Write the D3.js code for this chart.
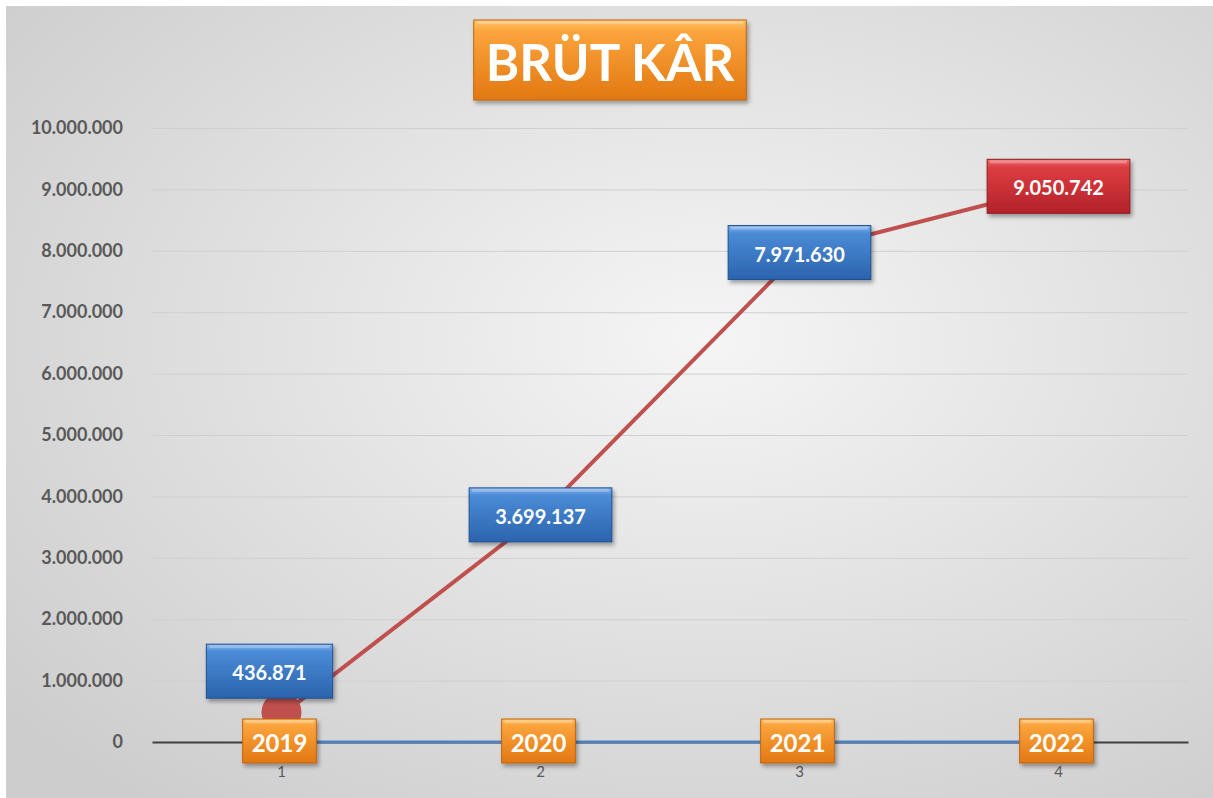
<!DOCTYPE html>
<html>
<head>
<meta charset="utf-8">
<script src="https://cdn.jsdelivr.net/npm/d3@7"></script>
<style>
  html, body { margin: 0; padding: 0; background: #fff; }
  svg { display: block; font-family: Lato, 'Open Sans', sans-serif; }
</style>
</head>
<body>
<svg id="chart"></svg>
<script>
const chartTitle = 'BRÜT KÂR';
const categories = ['1', '2', '3', '4'];
const years = [2019, 2020, 2021, 2022];
const grossProfit = [436871, 3699137, 7971630, 9050742];
const yTicks = [0, 1000000, 2000000, 3000000, 4000000, 5000000,
  6000000, 7000000, 8000000, 9000000, 10000000];

const W = 1213;
const H = 798;
const margin = { top: 128, right: 25, bottom: 56, left: 152 };
const width = W - margin.left - margin.right;
const height = H - margin.top - margin.bottom;

const locale = d3.formatLocale({ decimal: ',', thousands: '.', grouping: [3], currency: ['', ''] });
const fmt = locale.format(',d');

const svg = d3.select('#chart').attr('width', W).attr('height', H);
const defs = svg.append('defs');

// background: soft radial grey like the Excel chart area
const bg = defs.append('radialGradient').attr('id', 'bg')
  .attr('cx', '58%').attr('cy', '42%').attr('r', '75%');
bg.append('stop').attr('offset', '0%').attr('stop-color', '#f5f5f5');
bg.append('stop').attr('offset', '100%').attr('stop-color', '#cdcdcd');

const boxColours = {
  blue: ['#86b6ec', '#4b8bd7', '#2b63ad', '#1f4f8f'],
  orange: ['#ffc46c', '#fba43c', '#e27812', '#c4640c'],
  red: ['#f27576', '#dd3d42', '#b3222a', '#8c1b20'],
};
Object.keys(boxColours).forEach((k) => {
  const c = boxColours[k];
  const gr = defs.append('linearGradient').attr('id', 'g-' + k)
    .attr('x1', 0).attr('y1', 0).attr('x2', 0).attr('y2', 1);
  gr.append('stop').attr('offset', '0%').attr('stop-color', c[0]);
  gr.append('stop').attr('offset', '14%').attr('stop-color', c[1]);
  gr.append('stop').attr('offset', '100%').attr('stop-color', c[2]);
});

const shadow = defs.append('filter').attr('id', 'shadow')
  .attr('x', '-20%').attr('y', '-20%').attr('width', '140%').attr('height', '160%');
shadow.append('feDropShadow').attr('dx', 2).attr('dy', 3)
  .attr('stdDeviation', 2).attr('flood-color', '#000').attr('flood-opacity', 0.35);

svg.append('rect').attr('x', 6).attr('y', 6)
  .attr('width', W - 6).attr('height', H - 6).attr('fill', 'url(#bg)');

const g = svg.append('g')
  .attr('transform', 'translate(' + margin.left + ',' + margin.top + ')');

const x = d3.scaleBand().domain(categories).range([0, width]);
const cx = (i) => x(categories[i]) + x.bandwidth() / 2;
const y = d3.scaleLinear().domain([0, 10000000]).range([height, 0]);

// gridlines
g.append('g')
  .call(d3.axisLeft(y).tickValues(yTicks.slice(1)).tickSize(-width).tickFormat(''))
  .call((s) => s.select('.domain').remove())
  .call((s) => s.selectAll('line').attr('stroke', '#cfcfcf').attr('stroke-width', 1));

// y labels
g.append('g')
  .call(d3.axisLeft(y).tickValues(yTicks).tickSize(0).tickPadding(29).tickFormat(fmt))
  .call((s) => s.select('.domain').remove())
  .call((s) => s.selectAll('text')
    .attr('fill', '#595959').attr('font-size', 18).attr('font-weight', 'bold')
    .attr('font-family', 'Lato, sans-serif'));

// x axis
g.append('g')
  .attr('transform', 'translate(0,' + height + ')')
  .call(d3.axisBottom(x).tickSize(0).tickPadding(24))
  .call((s) => s.select('.domain').attr('stroke', '#3f3f3f').attr('stroke-width', 2))
  .call((s) => s.selectAll('text')
    .attr('fill', '#595959').attr('font-size', 15)
    .attr('font-family', 'Lato, sans-serif'));

// year series (tiny values -> sits on the zero line)
const line = d3.line().x((d, i) => cx(i)).y((d) => y(d));
g.append('path').datum(years)
  .attr('d', line).attr('fill', 'none')
  .attr('stroke', '#4f81bd').attr('stroke-width', 3);

// gross profit series
g.append('path').datum(grossProfit)
  .attr('d', line).attr('fill', 'none')
  .attr('stroke', '#c0504d').attr('stroke-width', 4);

g.append('circle')
  .attr('cx', cx(0)).attr('cy', y(grossProfit[0]) - 3)
  .attr('r', 20).attr('fill', '#c0504d');

function box(parent, bx, by, text, colour, fontSize, padX, h) {
  const grp = parent.append('g').attr('transform', 'translate(' + bx + ',' + by + ')');
  const t = grp.append('text').text(text)
    .attr('text-anchor', 'middle').attr('dominant-baseline', 'central')
    .attr('fill', '#fff').attr('font-size', fontSize).attr('font-weight', 'bold');
  const w = t.node().getComputedTextLength() + padX * 2;
  grp.insert('rect', 'text')
    .attr('x', -w / 2).attr('y', -h / 2).attr('width', w).attr('height', h)
    .attr('fill', 'url(#g-' + colour + ')')
    .attr('stroke', boxColours[colour][3]).attr('stroke-width', 1)
    .attr('filter', 'url(#shadow)');
  grp.insert('rect', 'text')
    .attr('x', -w / 2 + 3).attr('y', -h / 2 + 1).attr('width', w - 6).attr('height', 3)
    .attr('fill', '#fff').attr('opacity', 0.25);
  t.attr('y', 1);
  return grp;
}

// year labels
years.forEach((v, i) => {
  box(g, cx(i) - 2, height - 1, String(v), 'orange', 24, 9, 44);
});

// value labels
const labelShift = [[-12, -44], [0, 0], [0, 0], [0, 0]];
grossProfit.forEach((v, i) => {
  const colour = i === grossProfit.length - 1 ? 'red' : 'blue';
  box(g, cx(i) + labelShift[i][0], y(v) + labelShift[i][1], fmt(v), colour, 20, 26, 54);
});

// title
box(svg, 610, 60, chartTitle, 'orange', 51, 12, 80);
</script>
</body>
</html>
